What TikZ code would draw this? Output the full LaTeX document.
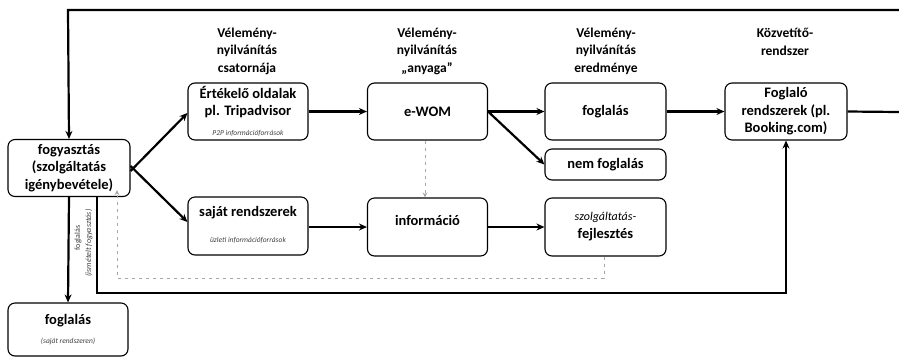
\documentclass[tikz,border=0pt]{standalone}
\usepackage{fontspec}
\setmainfont{Carlito}
\usetikzlibrary{arrows.meta}
\begin{document}
\begin{tikzpicture}[x=1pt,y=-1pt,
  box/.style={draw, line width=1.1pt, rounded corners=7pt, inner sep=0pt, align=center,
     font=\fontsize{14.5}{17.5}\selectfont\bfseries},
  std/.style={box, minimum width=120pt, minimum height=57pt},
  head/.style={font=\fontsize{13.5}{17.5}\selectfont\bfseries, align=center, inner sep=0pt},
  lbl/.style={inner sep=0pt, align=center, font=\fontsize{14.5}{17.5}\selectfont\bfseries},
  tiny/.style={inner sep=0pt, font=\fontsize{7.5}{8}\selectfont\itshape, text=black!75},
  arr/.style={line width=2.2pt, -{Stealth[length=8pt,width=7pt]}},
  thick line/.style={line width=2.2pt},
  gdash/.style={draw=black!35, line width=0.8pt, dash pattern=on 3pt off 4pt},
  garr/.style={gdash, -{Stealth[length=5pt,width=5pt,open]}}
]
\useasboundingbox (0,0) rectangle (899,357);

% headers
\node[head] (h1) at (247,51) {Vélemény-\\nyilvánítás\\csatornája};
\node[head] (h2) at (427,51) {Vélemény-\\nyilvánítás\\„anyaga”};
\node[head] (h3) at (606,51) {Vélemény-\\nyilvánítás\\eredménye};
\node[head] (h4) at (785,42) {Közvetítő-\\rendszer};

% boxes
\node[box, minimum width=122pt, minimum height=57pt] (fogy) at (69,168) {fogyasztás\\(szolgáltatás\\igénybevétele)};
\node[box, minimum width=120pt, minimum height=53pt] (fogl2) at (68,329.5) {};
\node[lbl] (fogl2t) at (68,321) {foglalás};
\node[tiny] (fogl2s) at (68,341) {(saját rendszeren)};

\node[std] (ert) at (248,111.5) {};
\node[lbl] (ertt) at (248,102) {Értékelő oldalak\\pl. Tripadvisor};
\node[tiny] (erts) at (248,133) {P2P információforrások};

\node[std] (ewom) at (427.5,111.5) {e-WOM};
\node[std, minimum width=121pt] (fogl) at (605.5,111.5) {foglalás};
\node[box, minimum width=121pt, minimum height=31pt] (nem) at (605.5,164.5) {nem foglalás};
\node[box, minimum width=122pt, minimum height=57pt] (book) at (786,111.5) {Foglaló\\rendszerek (pl.\\Booking.com)};

\node[std, minimum height=58pt] (sajat) at (248,226) {};
\node[lbl] (sajatt) at (248,213) {saját rendszerek};
\node[tiny] (sajats) at (248,240) {üzleti információforrások};

\node[std, minimum height=58pt] (info) at (427.5,227) {};
\node[lbl] (infot) at (427.5,220) {információ};

\node[std, minimum width=121pt, minimum height=58pt] (fejl) at (605.5,227) {};
\node[inner sep=0pt, font=\fontsize{12}{13}\selectfont\itshape] (fejla) at (605.5,217) {szolgáltatás-};
\node[lbl] (fejlb) at (605.5,235) {fejlesztés};

% vertical labels
\node[inner sep=0pt, rotate=90, font=\fontsize{8}{9}\selectfont, text=black!75] (vl1) at (78,238) {foglalás};
\node[inner sep=0pt, rotate=90, font=\fontsize{8}{9}\selectfont\itshape, text=black!75] (vl2) at (89,243) {(ismételt fogyasztás)};

% coordinates
\coordinate (tr) at (899,10);
\coordinate (tl) at (68,10);
\coordinate (rr) at (899,112);
\coordinate (bl) at (97,293);
\coordinate (br) at (786,293);
\coordinate (g1) at (604,278);
\coordinate (g2) at (117,278);

% main arrows
\draw[arr] ([yshift=-3pt]fogy.east) -- (ert.west |- 0,113);
\draw[arr] ([yshift=2pt]fogy.east) -- (sajat.west |- 0,222);
\draw[arr] (ert.east) -- (ewom.west);
\draw[arr] (ewom.east) -- (fogl.west);
\draw[arr] (ewom.east) -- (nem.west);
\draw[arr] (fogl.east) -- (book.west);
\draw[arr] (sajat.east |- 0,227) -- (info.west |- 0,227);
\draw[arr] (info.east) -- (fejl.west);
\draw[thick line] (book.east) -- (rr);
\draw[arr] (tr) -- (tl) -- (fogy.north);
\draw[arr] (fogy.south) -- (fogl2.north);
\draw[arr] (fogy.south -| bl) -- (bl) -- (br) -- (book.south);

% gray dashed
\draw[garr] (ewom.south -| 425,0) -- (info.north -| 425,0);
\draw[garr] (fejl.south -| g1) -- (g1) -- (g2) -- ([yshift=7pt]fogy.south -| g2);
\end{tikzpicture}
\end{document}
